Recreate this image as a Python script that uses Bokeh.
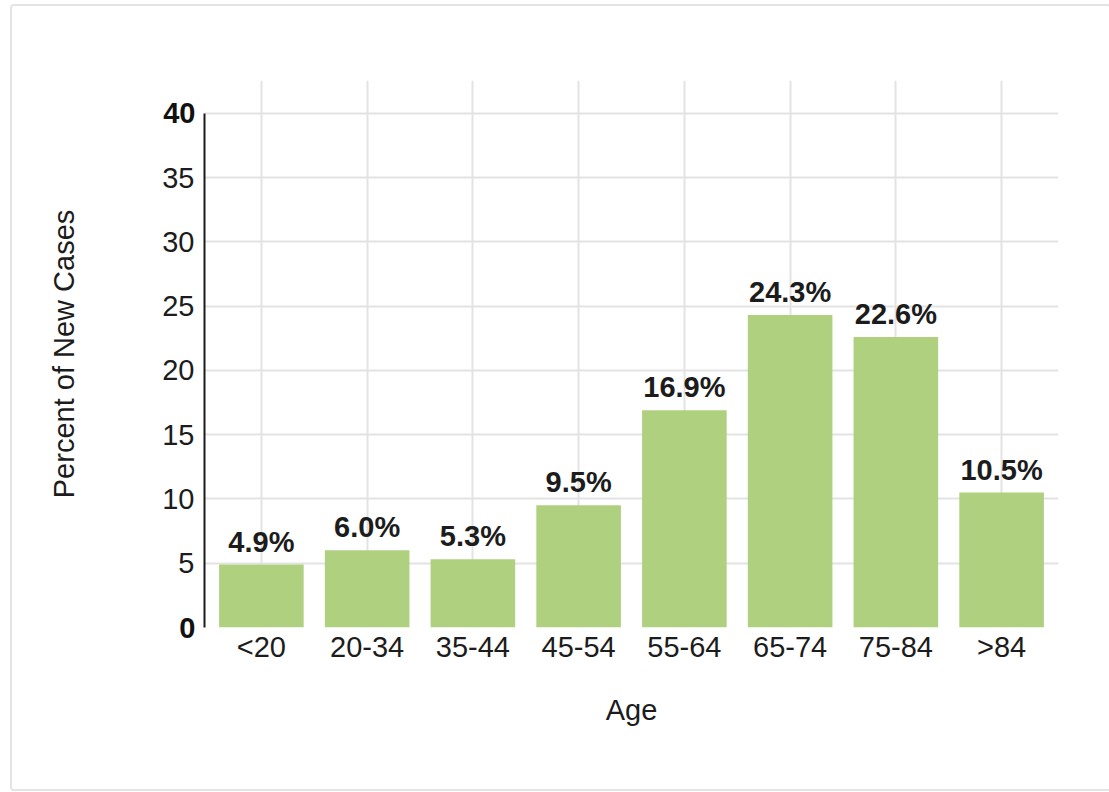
from bokeh.plotting import figure
from bokeh.models import FixedTicker, FactorRange, Range1d, ColumnDataSource, LinearAxis
from bokeh.embed import file_html
from bokeh.resources import INLINE
from bokeh.core.properties import value

# Share of new cases by age group (percent)
ages = ["<20", "20-34", "35-44", "45-54", "55-64", "65-74", "75-84", ">84"]
percent_new_cases = [4.9, 6.0, 5.3, 9.5, 16.9, 24.3, 22.6, 10.5]
y_ticks = [0, 5, 10, 15, 20, 25, 30, 35, 40]
bold_y_ticks = [0, 40]
plain_y_ticks = [t for t in y_ticks if t not in bold_y_ticks]

FONT = "Liberation Sans"
TEXT = "#1c1c1c"
GRID = "#e3e3e3"
BAR = "#afd17f"
FS = "29px"

src = ColumnDataSource(dict(
    age=ages,
    pct=percent_new_cases,
    label=[f"{v:.1f}%" for v in percent_new_cases],
))

p = figure(
    x_range=FactorRange(*ages, range_padding=0.0095),
    y_range=Range1d(0, 42.55),
    frame_width=854, frame_height=547,
    min_border_left=192, min_border_top=74,
    min_border_right=51, min_border_bottom=162,
    output_backend="svg", toolbar_location=None,
    outline_line_color=None,
    background_fill_color="white", border_fill_color="white",
)
p.styles = {
    "margin-left": "10px", "margin-top": "4px",
    "border": "2px solid #e4e4e4", "border-radius": "4px",
}

p.vbar(x="age", top="pct", width=0.8, source=src,
       fill_color=BAR, line_color=None)

p.text(x="age", y="pct", text="label", source=src,
       text_align="center", text_baseline="alphabetic", y_offset=-23,
       text_font=value(FONT), text_font_style="bold",
       text_font_size=FS, text_color=TEXT)

# grids
p.xgrid.grid_line_color = GRID
p.xgrid.grid_line_width = 2
p.ygrid.ticker = FixedTicker(ticks=y_ticks)
p.ygrid.grid_line_color = GRID
p.ygrid.grid_line_width = 2

# inner y axis: the line plus the regular tick labels
ya = p.yaxis[0]
ya.ticker = FixedTicker(ticks=plain_y_ticks)
ya.bounds = (0, 40)
ya.axis_line_color = TEXT
ya.axis_line_width = 2
ya.major_tick_line_color = None
ya.minor_tick_line_color = None
ya.major_label_standoff = 4
ya.major_label_text_font = FONT
ya.major_label_text_font_size = FS
ya.major_label_text_color = TEXT

# outer y axis: bold end ticks pulled back in line with the others, plus the title
yb = LinearAxis(ticker=FixedTicker(ticks=bold_y_ticks))
yb.axis_line_color = None
yb.major_tick_line_color = None
yb.minor_tick_line_color = None
yb.major_label_standoff = -42
yb.major_label_text_font = FONT
yb.major_label_text_font_size = FS
yb.major_label_text_font_style = "bold"
yb.major_label_text_color = "#111111"
yb.axis_label = "Percent of New Cases"
yb.axis_label_standoff = 80
yb.axis_label_text_font = FONT
yb.axis_label_text_font_size = FS
yb.axis_label_text_font_style = "normal"
yb.axis_label_text_color = TEXT
p.add_layout(yb, "left")

# x axis
xa = p.xaxis[0]
xa.axis_line_color = None
xa.major_tick_line_color = None
xa.minor_tick_line_color = None
xa.major_label_standoff = -3
xa.major_label_text_font = FONT
xa.major_label_text_font_size = FS
xa.major_label_text_color = TEXT
xa.axis_label = "Age"
xa.axis_label_standoff = 28
xa.axis_label_text_font = FONT
xa.axis_label_text_font_size = FS
xa.axis_label_text_font_style = "normal"
xa.axis_label_text_color = TEXT

open("out.html", "w").write(file_html(p, INLINE))
